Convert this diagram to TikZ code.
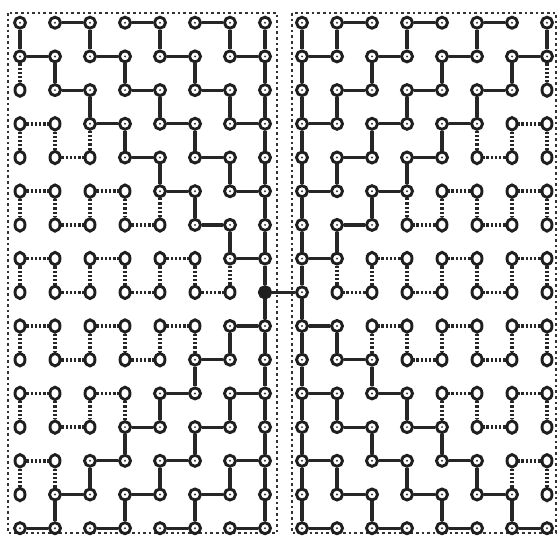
\documentclass[tikz,border=0pt]{standalone}
\usetikzlibrary{shapes.geometric}
\begin{document}
\begin{tikzpicture}[x=1pt,y=-1pt,
  pn/.style={circle, draw=black!88, line width=2.9pt, fill=white, minimum size=11pt, inner sep=0pt,
    path picture={\fill[black!80] (path picture bounding box.center) circle (1.1pt);}},
  hn/.style={ellipse, draw=black!88, line width=2.9pt, fill=white, minimum width=10pt, minimum height=12.5pt, inner sep=0pt},
  fn/.style={circle, draw=black!88, line width=2.9pt, fill=black!88, minimum size=11pt, inner sep=0pt},
  sl/.style={line width=3.2pt, draw=black!85},
  dl/.style={line width=3.6pt, draw=black!85, dash pattern=on 2.3pt off 1.9pt},
  border/.style={line width=1.8pt, draw=black!80, dash pattern=on 2.6pt off 3pt}]
\useasboundingbox (0,0) rectangle (559,538);
\draw[border] (8,13) rectangle (277,533);
\draw[border] (292,13) rectangle (556,533);
% nodes
\foreach \r in {0,...,15} {
  \pgfmathtruncatemacro\h{min(max(\r-1,0),15-\r)}
  \foreach \c in {0,...,7} {
    \pgfmathtruncatemacro\m{7-\c}
    \ifnum\c<\h
      \node[hn] (L-\c-\r) at ({20+35*\c},{22.7+33.7*\r}) {};
      \node[hn] (R-\m-\r) at ({302+35*\m},{22.7+33.7*\r}) {};
    \else
      \node[pn] (L-\c-\r) at ({20+35*\c},{22.7+33.7*\r}) {};
      \node[pn] (R-\m-\r) at ({302+35*\m},{22.7+33.7*\r}) {};
    \fi
  }
}
\node[fn] (L-7-8) at (L-7-8) {};
% solid horizontal edges
\foreach \r/\cs in {0/{1,3,5},1/{0,2,4,6},2/{1,3,5},3/{2,4,6},4/{3,5},5/{4,6},6/{5},7/{6},
                    9/{6},10/{5},11/{4,6},12/{3,5},13/{2,4,6},14/{1,3,5},15/{0,2,4,6}} {
  \foreach \c in \cs {
    \pgfmathtruncatemacro\ca{\c+1}
    \pgfmathtruncatemacro\ma{7-\c}
    \pgfmathtruncatemacro\mb{6-\c}
    \draw[sl] (L-\c-\r) -- (L-\ca-\r);
    \draw[sl] (R-\ma-\r) -- (R-\mb-\r);
  }
}
% solid vertical edges
\foreach \r/\cs in {0/{0,2,4,6,7},1/{1,3,5,7},2/{2,4,6,7},3/{3,5,7},4/{4,6,7},5/{5,7},6/{6,7},7/{7},8/{7},
                    9/{6,7},10/{5,7},11/{4,6,7},12/{3,5,7},13/{2,4,6,7},14/{1,3,5,7}} {
  \foreach \c in \cs {
    \pgfmathtruncatemacro\ra{\r+1}
    \pgfmathtruncatemacro\m{7-\c}
    \draw[sl] (L-\c-\r) -- (L-\c-\ra);
    \draw[sl] (R-\m-\r) -- (R-\m-\ra);
  }
}
% dotted horizontal edges
\foreach \r/\cs in {3/{0},4/{1},5/{0,2},6/{1,3},7/{0,2,4},8/{1,3,5},9/{0,2,4},10/{1,3},11/{0,2},12/{1},13/{0}} {
  \foreach \c in \cs {
    \pgfmathtruncatemacro\ca{\c+1}
    \pgfmathtruncatemacro\ma{7-\c}
    \pgfmathtruncatemacro\mb{6-\c}
    \draw[dl] (L-\c-\r) -- (L-\ca-\r);
    \draw[dl] (R-\ma-\r) -- (R-\mb-\r);
  }
}
% dotted vertical edges
\foreach \r/\cs in {1/{0},3/{0,1,2},5/{0,1,2,3,4},7/{0,1,2,3,4,5,6},9/{0,1,2,3,4,5},11/{0,1,2,3},13/{0,1}} {
  \foreach \c in \cs {
    \pgfmathtruncatemacro\ra{\r+1}
    \pgfmathtruncatemacro\m{7-\c}
    \draw[dl] (L-\c-\r) -- (L-\c-\ra);
    \draw[dl] (R-\m-\r) -- (R-\m-\ra);
  }
}
% link between panels
\draw[sl] (L-7-8) -- (R-0-8);
\end{tikzpicture}
\end{document}
